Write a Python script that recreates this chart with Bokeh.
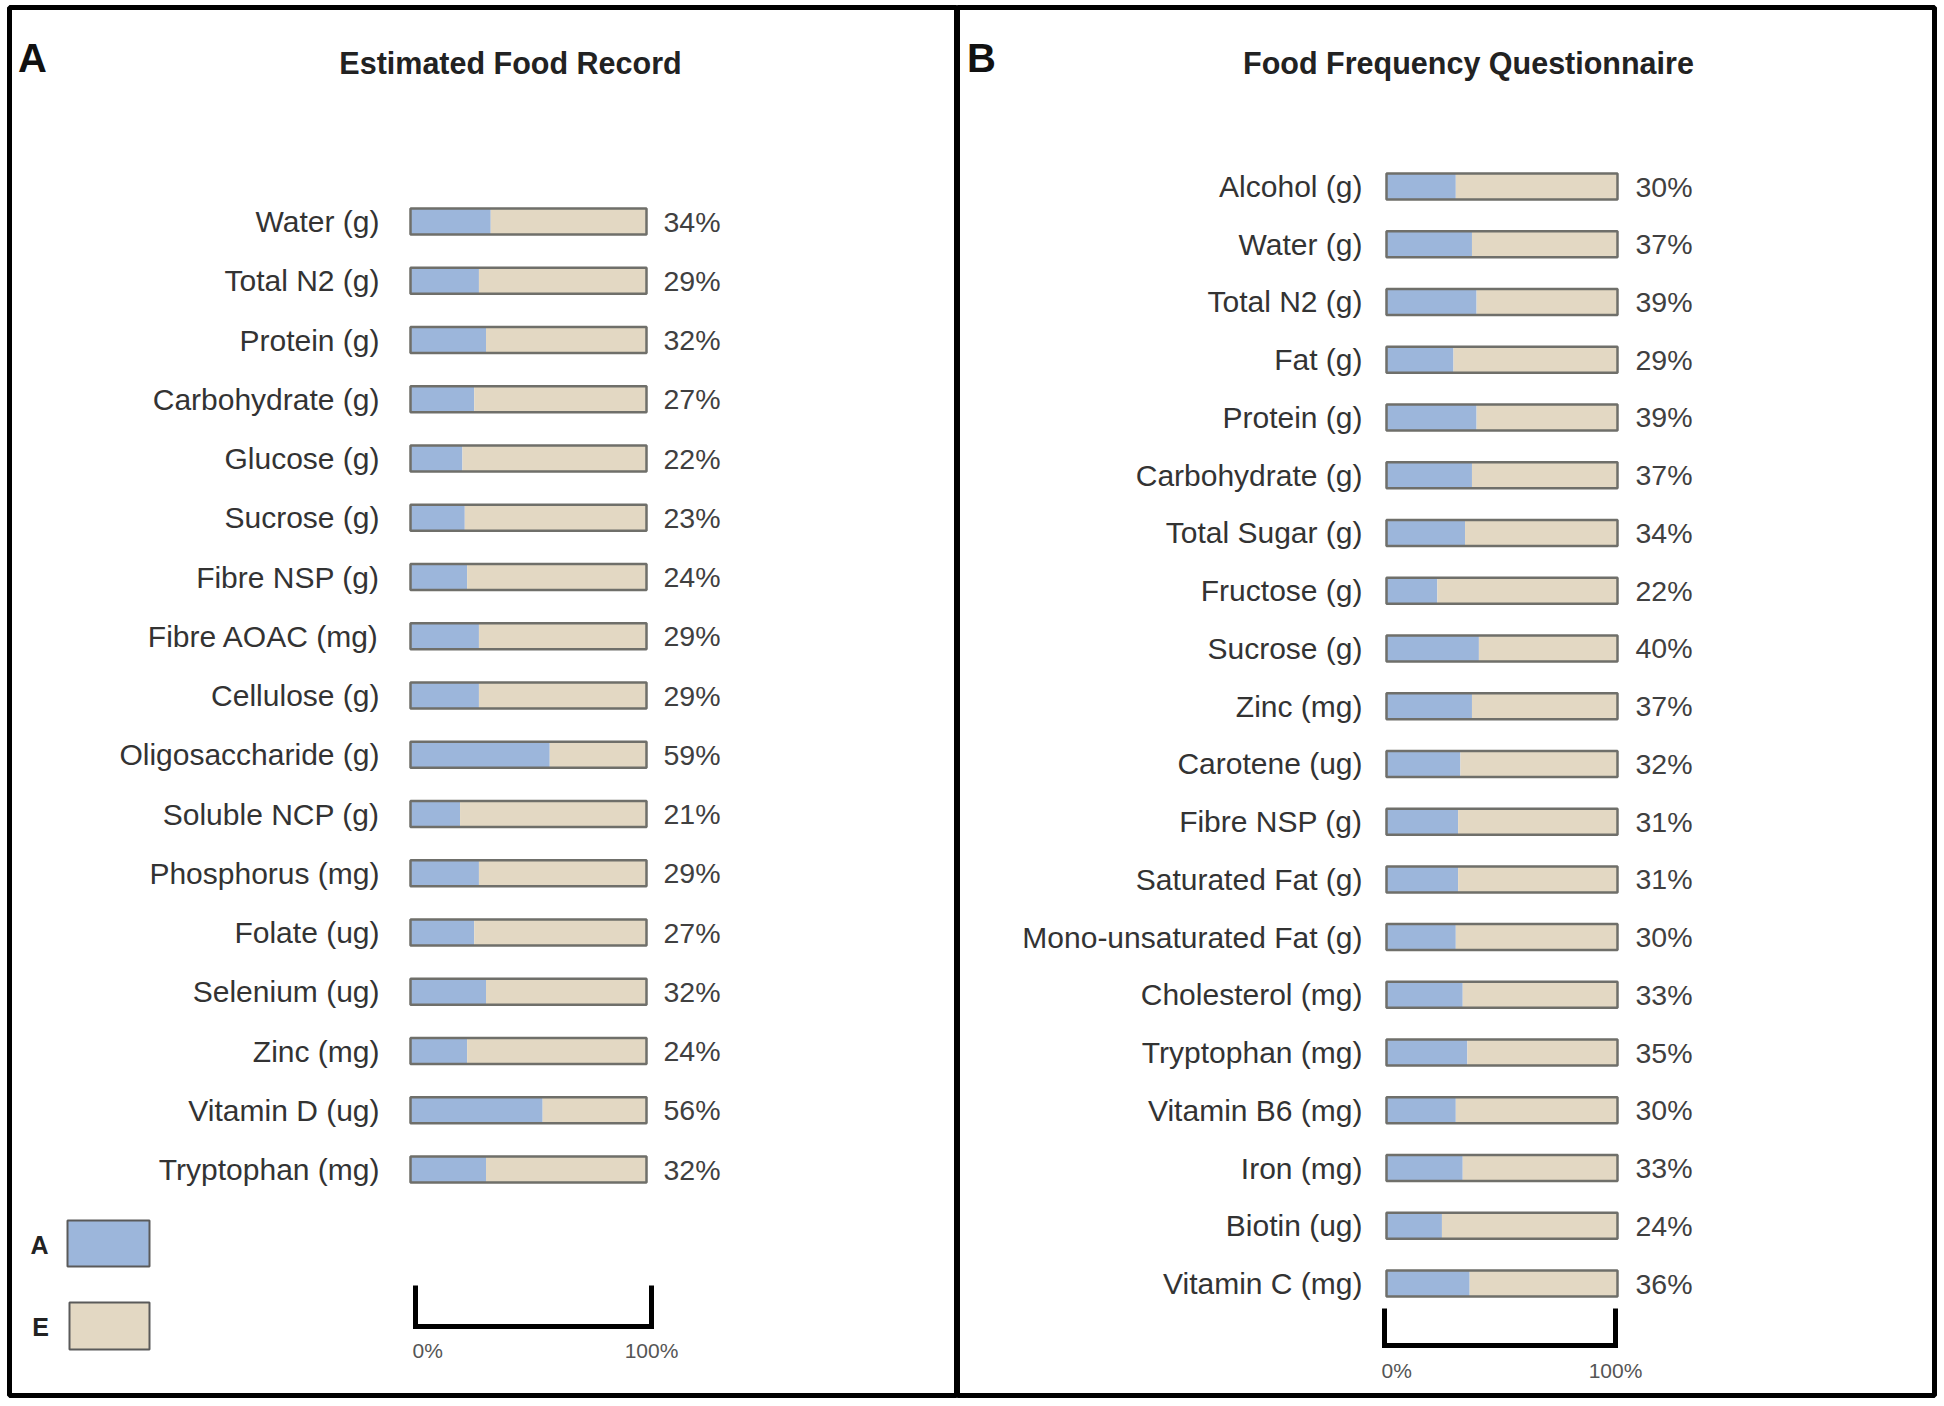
from bokeh.plotting import figure
from bokeh.layouts import row
from bokeh.models import Range1d
from bokeh.core.properties import value
from bokeh.embed import file_html
from bokeh.resources import INLINE

# ---------------- data ----------------
efr_nutrients = ["Water (g)", "Total N2 (g)", "Protein (g)", "Carbohydrate (g)", "Glucose (g)",
                 "Sucrose (g)", "Fibre NSP (g)", "Fibre AOAC (mg)", "Cellulose (g)",
                 "Oligosaccharide (g)", "Soluble NCP (g)", "Phosphorus (mg)", "Folate (ug)",
                 "Selenium (ug)", "Zinc (mg)", "Vitamin D (ug)", "Tryptophan (mg)"]
efr_pct = [34, 29, 32, 27, 22, 23, 24, 29, 29, 59, 21, 29, 27, 32, 24, 56, 32]

ffq_nutrients = ["Alcohol (g)", "Water (g)", "Total N2 (g)", "Fat (g)", "Protein (g)",
                 "Carbohydrate (g)", "Total Sugar (g)", "Fructose (g)", "Sucrose (g)",
                 "Zinc (mg)", "Carotene (ug)", "Fibre NSP (g)", "Saturated Fat (g)",
                 "Mono-unsaturated Fat (g)", "Cholesterol (mg)", "Tryptophan (mg)",
                 "Vitamin B6 (mg)", "Iron (mg)", "Biotin (ug)", "Vitamin C (mg)"]
ffq_pct = [30, 37, 39, 29, 39, 37, 34, 22, 40, 37, 32, 31, 31, 30, 33, 35, 30, 33, 24, 36]

panel_letters = ["A", "B"]
panel_titles = ["Estimated Food Record", "Food Frequency Questionnaire"]
legend_keys = ["A", "E"]
scale_labels = ["0%", "100%"]

# ---------------- style ----------------
BLUE = "#9cb6db"
TAN = "#e3d8c3"
FONT = value("Liberation Sans")
FIG_H = 1400
TOP, BOTTOM = 7, 5


def make_panel(cats, vals, letter, title, W, mb_left, mb_right, bar_l, bar_r, row0, step,
               lab_r, pct_l, title_xy, letter_xy, sb_x0, sb_top, sb_bot, sb_lab_y,
               legend=False):
    fw = W - mb_left - mb_right
    fh = FIG_H - TOP - BOTTOM
    s = (bar_r - bar_l) / 100.0
    X = lambda px: (px - bar_l) / s
    Y = lambda py: (py - row0) / step

    p = figure(width=W, height=FIG_H, x_range=Range1d(X(0), X(fw)),
               y_range=Range1d(Y(fh), Y(0)), output_backend="svg",
               toolbar_location=None, min_border_left=mb_left, min_border_right=mb_right,
               min_border_top=TOP, min_border_bottom=BOTTOM,
               x_axis_type=None, y_axis_type=None)
    p.outline_line_color = "black"
    p.outline_line_width = 5
    p.background_fill_color = "white"
    p.border_fill_color = "white"

    idx = list(range(len(cats)))
    bh = 26.0 / step
    p.hbar(y=idx, left=0, right=vals, height=bh, fill_color=BLUE, line_color=None)
    p.hbar(y=idx, left=vals, right=100, height=bh, fill_color=TAN, line_color=None)
    p.hbar(y=idx, left=0, right=100, height=bh, fill_color=None,
           line_color="#6f6f6a", line_width=2.5)

    p.text(x=X(lab_r), y=idx, text=cats, text_align="right", text_baseline="middle",
           text_font=FONT, text_font_size=value("30px"), text_color="#333333")
    p.text(x=X(pct_l), y=idx, text=[f"{v}%" for v in vals], text_align="left",
           text_baseline="middle", text_font=FONT, text_font_size=value("28.5px"),
           text_color="#404040")

    p.text(x=[X(title_xy[0])], y=[Y(title_xy[1])], text=[title], text_align="center",
           text_baseline="middle", text_font=FONT, text_font_size=value("30.5px"),
           text_font_style="bold", text_color="#222222")
    p.text(x=[X(letter_xy[0])], y=[Y(letter_xy[1])], text=[letter], text_align="center",
           text_baseline="middle", text_font=FONT, text_font_size=value("40px"),
           text_font_style="bold", text_color="#111111")

    # scale bar 0% .. 100%
    x0 = X(sb_x0)
    p.line(x=[x0, x0, x0 + 100, x0 + 100], y=[Y(sb_top), Y(sb_bot), Y(sb_bot), Y(sb_top)],
           line_width=5, line_color="black", line_join="miter")
    p.text(x=[x0 - 3.0 / s], y=[Y(sb_lab_y)], text=[scale_labels[0]], text_align="left",
           text_baseline="middle", text_font=FONT, text_font_size=value("21px"),
           text_color="#555555")
    p.text(x=[x0 + 100], y=[Y(sb_lab_y)], text=[scale_labels[1]], text_align="center",
           text_baseline="middle", text_font=FONT, text_font_size=value("21px"),
           text_color="#555555")

    if legend:
        boxes = [((58, 140, 1213, 1259), BLUE, (30, 1237)),
                 ((60, 140, 1295, 1342), TAN, (31, 1319))]
        for key, (box, col, txy) in zip(legend_keys, boxes):
            p.quad(left=[X(box[0])], right=[X(box[1])], top=[Y(box[2])], bottom=[Y(box[3])],
                   fill_color=col, line_color="#5a5a5a", line_width=2)
            p.text(x=[X(txy[0])], y=[Y(txy[1])], text=[key], text_align="center",
                   text_baseline="middle", text_font=FONT, text_font_size=value("25px"),
                   text_font_style="bold", text_color="#222222")
    return p


p1 = make_panel(efr_nutrients, efr_pct, panel_letters[0], panel_titles[0],
                W=957, mb_left=9, mb_right=0, bar_l=401, bar_r=637, row0=214, step=59.25,
                lab_r=370, pct_l=654, title_xy=(501, 55), letter_xy=(23, 50),
                sb_x0=406, sb_top=1278, sb_bot=1319, sb_lab_y=1343, legend=True)

p2 = make_panel(ffq_nutrients, ffq_pct, panel_letters[1], panel_titles[1],
                W=983, mb_left=0, mb_right=6, bar_l=429, bar_r=660, row0=179, step=57.74,
                lab_r=405, pct_l=678, title_xy=(511, 55), letter_xy=(24, 50),
                sb_x0=427, sb_top=1301, sb_bot=1338, sb_lab_y=1363)

layout = row(p1, p2, spacing=0)
open("out.html", "w").write(file_html(layout, INLINE))
